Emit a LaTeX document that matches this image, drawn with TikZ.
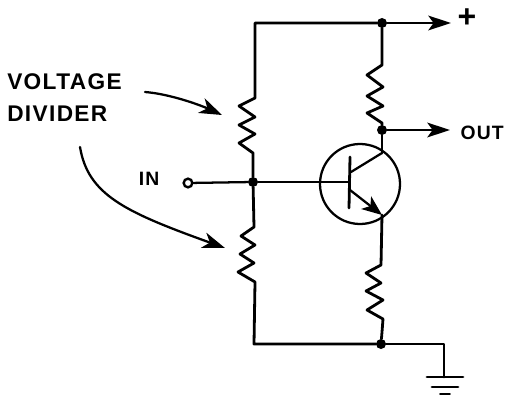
\documentclass[tikz,border=0pt]{standalone}
\usepackage{fontspec}
\setmainfont{Liberation Sans}
\newfontfamily\handfont[LetterSpace=6]{Liberation Sans}
\usetikzlibrary{arrows.meta}
\tikzset{
  wire/.style={line width=2.1pt,line join=round,line cap=round,black},
  thinwire/.style={line width=1.7pt,line join=round,line cap=round,black},
  flow/.style={wire,-{Stealth[length=17pt,width=11pt,inset=4pt]}},
  callout/.style={thinwire,-{Stealth[length=17pt,width=12pt,inset=5pt]}},
  dot/.style={circle,fill=black,inner sep=0pt,minimum size=7.5pt},
  lab/.style={inner sep=0pt,font=\handfont\bfseries\fontsize{17}{17}\selectfont},
  smalllab/.style={inner sep=0pt,font=\handfont\bfseries\fontsize{14.5}{14.5}\selectfont}
}
\begin{document}
\begin{tikzpicture}[x=0.75pt,y=-0.75pt]
\useasboundingbox (0,0) rectangle (505,399);
% junctions and terminals
\node[dot] (top) at (382,23) {};
\node[dot] (col) at (382,130) {};
\node[dot] (mid) at (253,182) {};
\node[dot] (bot) at (381,344) {};
\node[circle,draw,line width=1.8pt,fill=white,inner sep=0pt,minimum size=6.5pt] (in) at (188,183) {};
\coordinate (tl) at (255,23);
\coordinate (bl) at (254,344);
\coordinate (br) at (444,344);
\coordinate (plus) at (451,23);
\coordinate (outp) at (450,130);
% transistor
\node[circle,draw,line width=1.7pt,inner sep=0pt,minimum size=60pt] (q) at (360,184) {};
\coordinate (bas) at (349,182);
\coordinate (bart) at (350,157);
\coordinate (barb) at (349,208);
\coordinate (cin) at (351,172);
\coordinate (cout) at (382,153);
\coordinate (ein) at (350,190);
\coordinate (eout) at (382,215);
% rails
\draw[wire] (top) -- (tl) -- (255,98) -- (239,106) -- (255,117) -- (239,125) -- (255,134) -- (239,143) -- (253,153) -- (mid);
\draw[wire] (mid) -- (254,227) -- (241,236) -- (255,245) -- (240,254) -- (254,263) -- (238,272) -- (255,282) -- (254,344) -- (bot);
\draw[wire] (top) -- (382,65) -- (367,75) -- (383,87) -- (367,96) -- (383,106) -- (367,113) -- (382,123) -- (col);
\draw[wire] (col) -- (cout);
\draw[wire] (eout) -- (381,265) -- (366,273) -- (381,283) -- (366,291) -- (383,300) -- (367,310) -- (383,319) -- (382,332) -- (bot);
\draw[flow] (top) -- (plus);
\draw[flow] (col) -- (outp);
\draw[thinwire] (in) -- (mid);
\draw[thinwire] (mid) -- (bas);
\draw[wire] (bart) -- (barb);
\draw[thinwire] (cin) -- (cout);
\draw[thinwire,-{Stealth[length=15pt,width=12pt,inset=4pt]}] (ein) -- (eout);
% ground
\coordinate (g1l) at (427,377); \coordinate (g1r) at (463,377);
\coordinate (g2l) at (432,387); \coordinate (g2r) at (458,387);
\coordinate (g3l) at (440,394); \coordinate (g3r) at (450,394);
\coordinate (gnd) at (444,377);
\draw[wire] (bot) -- (br) -- (gnd);
\draw[wire] (g1l) -- (g1r);
\draw[wire] (g2l) -- (g2r);
\draw[thinwire,line width=1.3pt] (g3l) -- (g3r);
% labels
\node[lab,anchor=west] (vt) at (7,82) {VOLTAGE};
\node[lab,anchor=west] (dv) at (7,114) {DIVIDER};
\node[smalllab] (inl) at (149,179) {IN};
\node[smalllab,anchor=east] (outl) at (504,133) {OUT};
\node[font=\fontsize{24}{24}\bfseries\selectfont,inner sep=0pt] (pl) at (467,18) {+};
% callouts
\coordinate (r1) at (222,115);
\coordinate (r2) at (225,248);
\coordinate (c1) at (145,92);
\coordinate (c2) at (80,147);
\draw[callout] (c1) .. controls (170,94) and (200,105) .. (r1);
\draw[callout] (c2) .. controls (88,195) and (125,212) .. (r2);
\end{tikzpicture}
\end{document}
